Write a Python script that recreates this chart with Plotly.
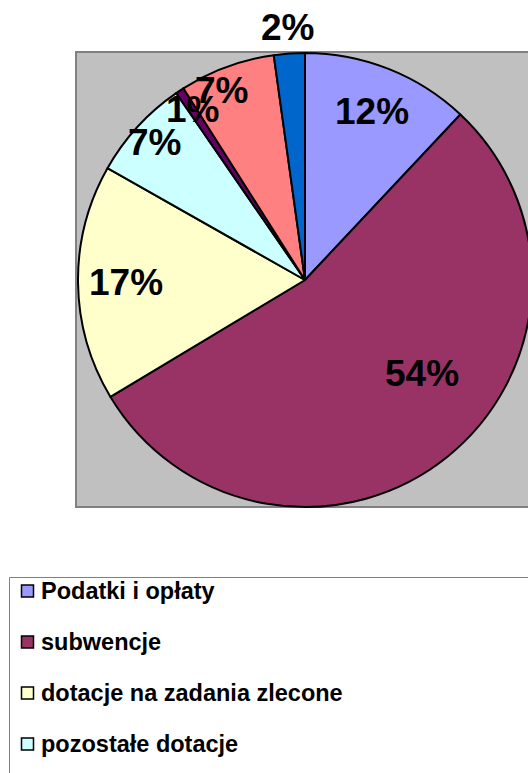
import math
import plotly.graph_objects as go

# ---- data ----
categories = [
    "Podatki i opłaty",
    "subwencje",
    "dotacje na zadania zlecone",
    "pozostałe dotacje",
    "środki z funduszy UE",
    "dochody majątkowe",
    "pozostałe dochody",
]
values = [12.0, 54.4, 16.8, 7.2, 0.6, 6.8, 2.2]
labels_text = [f"{round(v):d}%" for v in values]

# ---- styles ----
colors = ["#9999FF", "#993366", "#FFFFCC", "#CCFFFF", "#660066", "#FF8080", "#0066CC"]
label_radius = [0.80, 0.66, 0.79, 0.90, 0.90, 0.91, 1.115]
label_angle_nudge = [0, -12.6, 0, 0, 0, -3.6, 0]

W, H = 540, 773          # figure slightly wider than the 528px window; right part is clipped
FONT = "Liberation Sans, Arial, sans-serif"

# pie placement (pixels)
px_left, px_right = 78, 532
py_top, py_bottom = 53, 507
cx = (px_left + px_right) / 2
cy = (py_top + py_bottom) / 2
R = min(px_right - px_left, py_bottom - py_top) / 2

fig = go.Figure()
fig.add_trace(go.Pie(
    labels=categories,
    values=values,
    sort=False,
    direction="clockwise",
    rotation=0,
    marker=dict(colors=colors, line=dict(color="black", width=2)),
    textinfo="none",
    hoverinfo="label+percent",
    showlegend=False,
    domain=dict(x=[px_left / W, px_right / W], y=[1 - py_bottom / H, 1 - py_top / H]),
))

shapes = []
annotations = []

# plot area background
shapes.append(dict(type="rect", xref="paper", yref="paper",
                   x0=76 / W, x1=(W + 10) / W, y0=1 - 507 / H, y1=1 - 52 / H,
                   fillcolor="#C0C0C0", line=dict(color="#808080", width=2), layer="below"))

# data labels
total = sum(values)
cum = 0.0
for i, v in enumerate(values):
    mid = (cum + v / 2) / total * 360 + label_angle_nudge[i]
    cum += v
    a = math.radians(mid)
    r = label_radius[i] * R
    x = cx + r * math.sin(a)
    y = cy - r * math.cos(a)
    annotations.append(dict(x=x / W, y=1 - y / H, xref="paper", yref="paper",
                            text=f"<b>{labels_text[i]}</b>", showarrow=False,
                            xanchor="center", yanchor="middle",
                            font=dict(family=FONT, size=37, color="black")))

# legend (manual)
leg_left, leg_top = 9.5, 577.5
shapes.append(dict(type="rect", xref="paper", yref="paper",
                   x0=leg_left / W, x1=(W + 10) / W, y0=-0.1, y1=1 - leg_top / H,
                   fillcolor="white", line=dict(color="#808080", width=1), layer="below"))
row0, row_gap, sq = 591, 51, 12
for i, name in enumerate(categories):
    yc = row0 + i * row_gap
    shapes.append(dict(type="rect", xref="paper", yref="paper",
                       x0=21.5 / W, x1=(21.5 + sq) / W,
                       y0=1 - (yc + sq / 2) / H, y1=1 - (yc - sq / 2) / H,
                       fillcolor=colors[i], line=dict(color="black", width=1.5)))
    annotations.append(dict(x=39 / W, y=1 - yc / H, xref="paper", yref="paper",
                            text=f"<b>{name}</b>", showarrow=False,
                            xanchor="left", yanchor="middle",
                            font=dict(family=FONT, size=23.5, color="black")))

fig.update_layout(
    width=W, height=H,
    margin=dict(l=0, r=0, t=0, b=0),
    paper_bgcolor="white",
    plot_bgcolor="white",
    shapes=shapes,
    annotations=annotations,
    showlegend=False,
)

fig.write_html("out.html", config={"displayModeBar": False},
               post_script="document.body.style.margin='0';document.body.style.overflow='hidden';")
